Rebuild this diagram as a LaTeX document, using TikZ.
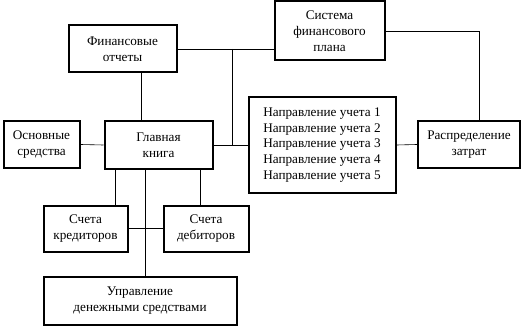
\documentclass[tikz,border=0pt]{standalone}
\usepackage{fontspec}
\setmainfont{Liberation Serif}
\usetikzlibrary{calc}
\begin{document}
\begin{tikzpicture}[x=1pt,y=-1pt,
    box/.style={draw,line width=2pt,align=center,inner sep=0pt,
        font=\fontsize{13.2}{15.7}\selectfont},
    link/.style={line width=0.6pt}]
\useasboundingbox (0,0) rectangle (522,326);

% boxes
\node[box,minimum width=108pt,minimum height=47pt] (fin) at (122.5,49) {Финансовые\\отчеты};
\node[box,minimum width=110pt,minimum height=59pt] (sys) at (329.5,31) {Система\\финансового\\плана};
\node[box,minimum width=76pt,minimum height=46pt] (osn) at (41.5,144.5) {Основные\\средства};
\node[box,minimum width=108pt,minimum height=47pt] (glav) at (158.5,145) {Главная\\книга};
\node[box,minimum width=147pt,minimum height=95pt] (napr) at (322,145)
    {Направление учета 1\\Направление учета 2\\Направление учета 3\\Направление учета 4\\Направление учета 5};
\node[box,minimum width=102pt,minimum height=47pt] (rasp) at (469,144.5) {Распределение\\затрат};
\node[box,minimum width=84pt,minimum height=46pt] (kred) at (85.5,228.5) {Счета\\кредиторов};
\node[box,minimum width=85pt,minimum height=46pt] (deb) at (206,228.5) {Счета\\дебиторов};
\node[box,minimum width=193pt,minimum height=48pt] (upr) at (140,300.5) {Управление\\денежными средствами};

% connectors
\coordinate (j) at (232.5,49);
\draw[link] (fin.east) -- (fin.east -| sys.west);
\draw[link] (j) |- (napr.west);
\draw[link] (glav.east) -- (napr.west);
\draw[link] (napr.east) -- (rasp.west);
\draw[link] (sys.east) -| ([xshift=10pt]rasp.north);
\draw[link] ([xshift=18.5pt]fin.south) coordinate (f) -- (f |- glav.north);
\draw[link] (osn.east) -- (glav.west);
\draw[link] ([xshift=12pt]glav.south west) coordinate (k) -- (k |- kred.north);
\draw[link] ([xshift=-13pt]glav.south east) coordinate (d) -- (d |- deb.north);
\draw[link] ([xshift=-13.5pt]glav.south) coordinate (m) -- (m |- upr.north);
\draw[link] (kred.east) -- (deb.west);

\end{tikzpicture}
\end{document}
